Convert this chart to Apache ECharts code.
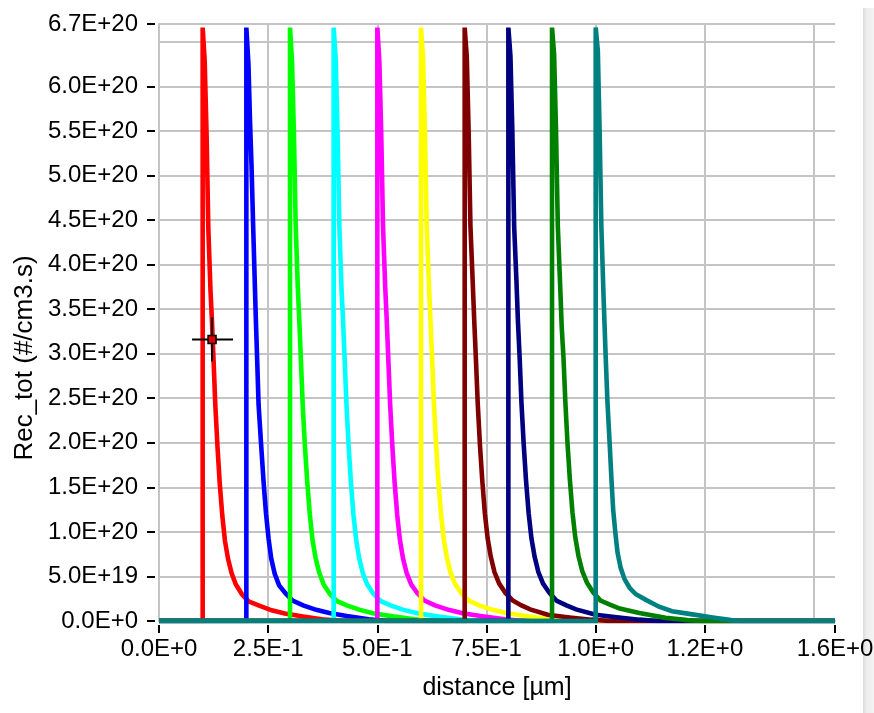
<!DOCTYPE html>
<html>
<head>
<meta charset="utf-8">
<script src="https://cdn.jsdelivr.net/npm/echarts@6/dist/echarts.min.js"></script>
<style>
  html, body { margin: 0; padding: 0; background: #ffffff; }
  #chart { width: 874px; height: 713px; }
</style>
</head>
<body>
<div id="chart"></div>
<script>
// Total recombination rate profiles, one per junction depth (µm, #/cm3.s)
const seriesNames = ['0.1 µm', '0.2 µm', '0.3 µm', '0.4 µm', '0.5 µm', '0.6 µm', '0.7 µm', '0.8 µm', '0.9 µm', '1.0 µm'];
const seriesColors = ['#ff0000', '#0000ff', '#00ff00', '#00ffff', '#ff00ff', '#ffff00', '#800000', '#000080', '#008000', '#008080'];

const rec01 = [[0,0],[0.1,0],[0.1,6.66e20],[0.1045,6.30e20],[0.109,5.45e20],[0.113,4.40e20],[0.118,3.70e20],[0.121,3.40e20],[0.125,2.92e20],[0.129,2.42e20],[0.134,1.95e20],[0.139,1.55e20],[0.145,1.18e20],[0.151,9.0e19],[0.158,7.0e19],[0.166,5.4e19],[0.176,4.1e19],[0.19,3.0e19],[0.205,2.2e19],[0.228,1.75e19],[0.258,1.2e19],[0.288,8.5e18],[0.33,5.0e18],[0.38,1.5e18],[0.42,0],[1.548,0]];
const rec02 = [[0,0],[0.2,0],[0.2,6.66e20],[0.2048,6.25e20],[0.2085,5.60e20],[0.2117,5.14e20],[0.2158,4.40e20],[0.2215,3.43e20],[0.225,2.90e20],[0.228,2.43e20],[0.2337,1.99e20],[0.2395,1.56e20],[0.245,1.21e20],[0.251,9.2e19],[0.257,7.0e19],[0.265,5.3e19],[0.275,4.0e19],[0.29,3.1e19],[0.306,2.3e19],[0.33,1.75e19],[0.36,1.25e19],[0.39,9.0e18],[0.43,5.5e18],[0.48,2.0e18],[0.52,0],[1.548,0]];
const rec03 = [[0,0],[0.3,0],[0.3,6.66e20],[0.3046,6.28e20],[0.3088,5.50e20],[0.313,4.45e20],[0.3178,3.75e20],[0.3212,3.38e20],[0.3252,2.90e20],[0.3292,2.41e20],[0.3342,1.96e20],[0.3395,1.56e20],[0.3455,1.19e20],[0.3515,9.1e19],[0.3585,7.1e19],[0.3665,5.5e19],[0.377,4.1e19],[0.391,3.05e19],[0.407,2.25e19],[0.43,1.75e19],[0.46,1.25e19],[0.49,8.8e18],[0.535,5.2e18],[0.585,1.8e18],[0.625,0],[1.548,0]];
const rec04 = [[0,0],[0.4,0],[0.4,6.66e20],[0.4047,6.30e20],[0.4089,5.48e20],[0.4131,4.42e20],[0.418,3.72e20],[0.4212,3.40e20],[0.4252,2.93e20],[0.4293,2.43e20],[0.4343,1.96e20],[0.4393,1.57e20],[0.4453,1.19e20],[0.4515,9.1e19],[0.4585,7.0e19],[0.4665,5.4e19],[0.4768,4.1e19],[0.491,3.05e19],[0.507,2.25e19],[0.53,1.75e19],[0.56,1.25e19],[0.592,8.7e18],[0.636,5.2e18],[0.688,1.8e18],[0.73,0],[1.548,0]];
const rec05 = [[0,0],[0.5,0],[0.5,6.66e20],[0.5046,6.28e20],[0.5089,5.47e20],[0.5131,4.41e20],[0.5181,3.74e20],[0.5213,3.40e20],[0.5253,2.92e20],[0.5294,2.42e20],[0.5344,1.96e20],[0.5395,1.56e20],[0.5455,1.19e20],[0.5517,9.1e19],[0.5588,7.0e19],[0.567,5.4e19],[0.5775,4.1e19],[0.592,3.1e19],[0.608,2.3e19],[0.632,1.75e19],[0.663,1.25e19],[0.695,8.8e18],[0.74,5.3e18],[0.792,1.8e18],[0.835,0],[1.548,0]];
const rec06 = [[0,0],[0.6,0],[0.6,6.66e20],[0.6047,6.32e20],[0.6089,5.49e20],[0.6131,4.42e20],[0.6182,3.76e20],[0.6214,3.40e20],[0.6255,2.93e20],[0.6296,2.43e20],[0.6346,1.97e20],[0.6398,1.57e20],[0.6458,1.20e20],[0.652,9.2e19],[0.6592,7.1e19],[0.6675,5.45e19],[0.678,4.15e19],[0.6925,3.1e19],[0.709,2.3e19],[0.733,1.75e19],[0.764,1.25e19],[0.797,8.8e18],[0.843,5.3e18],[0.895,1.8e18],[0.94,0],[1.548,0]];
const rec07 = [[0,0],[0.7,0],[0.7,6.66e20],[0.7048,6.33e20],[0.709,5.50e20],[0.7132,4.43e20],[0.7184,3.80e20],[0.7218,3.38e20],[0.7258,2.93e20],[0.7299,2.44e20],[0.735,1.97e20],[0.7402,1.58e20],[0.7462,1.21e20],[0.7525,9.3e19],[0.7598,7.2e19],[0.7682,5.5e19],[0.779,4.2e19],[0.7935,3.15e19],[0.81,2.3e19],[0.83,1.75e19],[0.85,1.3e19],[0.89,7.0e18],[0.94,4.0e18],[0.99,1.5e18],[1.03,0],[1.548,0]];
const rec08 = [[0,0],[0.8,0],[0.8,6.66e20],[0.8048,6.34e20],[0.8091,5.50e20],[0.8133,4.43e20],[0.8185,3.82e20],[0.822,3.36e20],[0.826,2.94e20],[0.8301,2.44e20],[0.8352,1.98e20],[0.8404,1.58e20],[0.8465,1.21e20],[0.8528,9.3e19],[0.8602,7.2e19],[0.8687,5.5e19],[0.8795,4.2e19],[0.894,3.15e19],[0.911,2.25e19],[0.933,1.75e19],[0.955,1.3e19],[1.0,7.0e18],[1.048,4.2e18],[1.1,1.5e18],[1.14,0],[1.548,0]];
const rec09 = [[0,0],[0.9,0],[0.9,6.66e20],[0.9048,6.36e20],[0.9091,5.51e20],[0.9133,4.43e20],[0.9185,3.78e20],[0.9222,3.30e20],[0.9264,2.94e20],[0.9306,2.45e20],[0.9355,1.99e20],[0.9408,1.59e20],[0.9468,1.22e20],[0.9532,9.4e19],[0.9606,7.3e19],[0.9692,5.6e19],[0.98,4.3e19],[0.9945,3.2e19],[1.011,2.3e19],[1.034,1.8e19],[1.055,1.4e19],[1.1,9.0e18],[1.16,3.5e18],[1.21,1.0e18],[1.24,0],[1.548,0]];
const rec10 = [[0,0],[1.0,0],[1.0,6.66e20],[1.0049,6.40e20],[1.009,5.50e20],[1.013,4.42e20],[1.018,3.64e20],[1.023,2.95e20],[1.027,2.45e20],[1.032,1.99e20],[1.036,1.60e20],[1.04,1.25e20],[1.045,9.9e19],[1.05,7.7e19],[1.057,6.0e19],[1.066,4.7e19],[1.078,3.7e19],[1.092,3.0e19],[1.114,2.4e19],[1.145,1.6e19],[1.175,1.1e19],[1.214,8.0e18],[1.268,4.0e18],[1.31,1.0e18],[1.33,0],[1.548,0]];
const recProfiles = [rec01, rec02, rec03, rec04, rec05, rec06, rec07, rec08, rec09, rec10];

// Axis ticks and their labels
const xMax = 1.548;
const xTickValues = [0, 0.25, 0.5, 0.75, 1.0, 1.25, 1.548];
const xTickLabels = ['0.0E+0', '2.5E-1', '5.0E-1', '7.5E-1', '1.0E+0', '1.2E+0', '1.6E+0'];
const yMax = 6.7e20;
const yTickValues = [0, 5e19, 1e20, 1.5e20, 2e20, 2.5e20, 3e20, 3.5e20, 4e20, 4.5e20, 5e20, 5.5e20, 6e20, 6.7e20];

// Cursor readout on the first profile
const cursorPoint = [[0.1215, 3.16e20]];

const FONT = '"Liberation Sans", Arial, sans-serif';
const TEXT = '#000000';
const GRID = '#c4c4c4';

function sciLabel(v) {
  if (v === 0) return '0.0E+0';
  const e = Math.floor(Math.log10(v) + 1e-9);
  const m = v / Math.pow(10, e);
  return m.toFixed(1) + 'E' + (e >= 0 ? '+' : '-') + Math.abs(e);
}
function xLabel(v) {
  let best = 0;
  for (let i = 1; i < xTickValues.length; i++) {
    if (Math.abs(xTickValues[i] - v) < Math.abs(xTickValues[best] - v)) best = i;
  }
  return xTickLabels[best];
}

const chart = echarts.init(document.getElementById('chart'), null, { renderer: 'canvas' });

const lineSeries = recProfiles.map((pts, i) => ({
  name: seriesNames[i],
  type: 'line',
  xAxisIndex: 0,
  yAxisIndex: 0,
  data: pts,
  showSymbol: false,
  symbol: 'none',
  clip: true,
  lineStyle: { color: seriesColors[i], width: 4.6, join: 'miter' },
  itemStyle: { color: seriesColors[i] },
  z: 3 + i,
  animation: false
}));

const cursorSeries = {
  type: 'custom',
  xAxisIndex: 0,
  yAxisIndex: 0,
  data: cursorPoint,
  z: 30,
  animation: false,
  renderItem: function (params, api) {
    const p = api.coord([api.value(0), api.value(1)]);
    const s = { stroke: '#000000', lineWidth: 2 };
    return {
      type: 'group',
      children: [
        { type: 'line', shape: { x1: p[0] - 20, y1: p[1], x2: p[0] + 21, y2: p[1] }, style: s },
        { type: 'line', shape: { x1: p[0], y1: p[1] - 22, x2: p[0], y2: p[1] + 22 }, style: s },
        { type: 'rect', shape: { x: p[0] - 4, y: p[1] - 4, width: 8, height: 8 }, style: { fill: '#e00000', stroke: '#000000', lineWidth: 1.5 } }
      ]
    };
  }
};

const option = {
  backgroundColor: '#ffffff',
  animation: false,
  grid: { left: 159, right: 39, top: 24, bottom: 92, containLabel: false, outerBoundsMode: 'none' },
  xAxis: [
    {
      type: 'value', min: 0, max: xMax, interval: 0.25, position: 'bottom',
      axisLine: { show: true, onZero: false, lineStyle: { color: GRID, width: 2 } },
      axisTick: { show: false },
      axisLabel: { show: false },
      splitLine: { show: true, showMaxLine: false, lineStyle: { color: GRID, width: 2 } }
    },
    {
      type: 'value', min: 0, max: xMax, interval: 0.25, position: 'bottom', offset: 4,
      axisLine: { show: false, onZero: false },
      axisTick: { show: true, length: 8, customValues: xTickValues, lineStyle: { color: '#000000', width: 2 } },
      axisLabel: { show: true, customValues: xTickValues, formatter: xLabel, margin: 12,
        fontFamily: FONT, fontSize: 24, color: TEXT, hideOverlap: false },
      splitLine: { show: false },
      name: 'distance [µm]', nameLocation: 'middle', nameGap: 51,
      nameTextStyle: { fontFamily: FONT, fontSize: 25, color: TEXT }
    }
  ],
  yAxis: [
    {
      type: 'value', min: 0, max: yMax, interval: 5e19, position: 'left',
      axisLine: { show: true, onZero: false, lineStyle: { color: GRID, width: 2 } },
      axisTick: { show: false },
      axisLabel: { show: false },
      splitLine: { show: true, lineStyle: { color: GRID, width: 2 } }
    },
    {
      type: 'value', min: 0, max: yMax, interval: 5e19, position: 'left', offset: 4,
      axisLine: { show: false, onZero: false },
      axisTick: { show: true, length: 8, customValues: yTickValues, lineStyle: { color: '#000000', width: 2 } },
      axisLabel: { show: true, customValues: yTickValues, formatter: sciLabel, margin: 17,
        fontFamily: FONT, fontSize: 24, color: TEXT, hideOverlap: false },
      splitLine: { show: false }
    }
  ],
  graphic: [
    {
      type: 'text', x: 25, y: 358, rotation: Math.PI / 2, z: 50,
      style: { text: 'Rec_tot (#/cm3.s)', font: '26px ' + FONT, fill: TEXT,
        align: 'center', verticalAlign: 'middle', textAlign: 'center', textVerticalAlign: 'middle' }
    },
    {
      type: 'rect', left: 863, top: 8, z: -10,
      shape: { width: 11, height: 705 },
      style: { fill: new echarts.graphic.LinearGradient(0, 0, 1, 0, [
        { offset: 0, color: '#dcdcdc' }, { offset: 0.35, color: '#eeeeee' }, { offset: 1, color: '#f3f3f3' }
      ]) }
    }
  ],
  series: lineSeries.concat([cursorSeries])
};

chart.setOption(option);
</script>
</body>
</html>
